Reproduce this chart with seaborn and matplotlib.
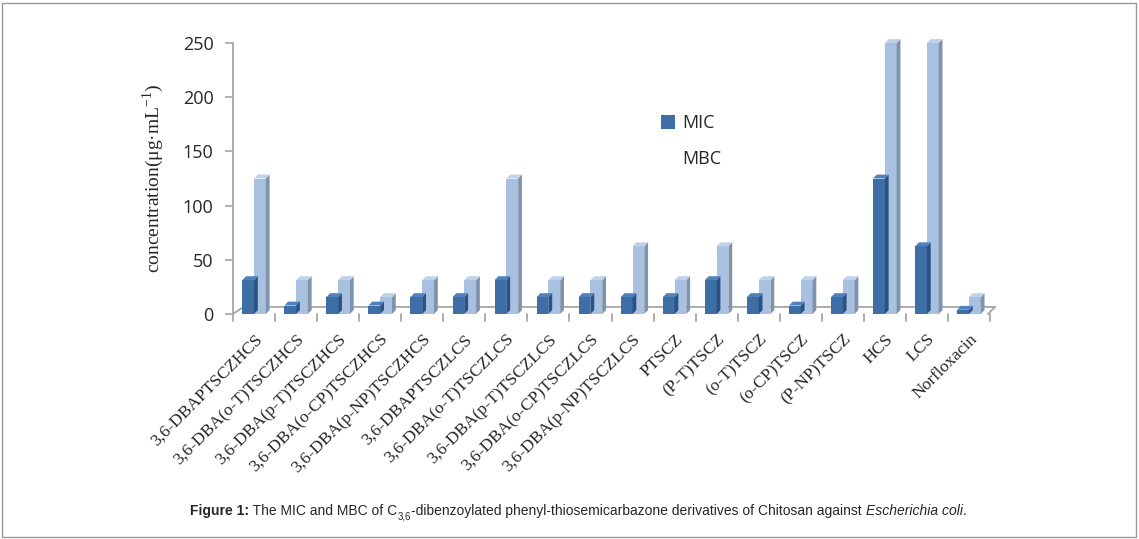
"""MIC / MBC of chitosan derivatives against E. coli, pseudo-3D grouped bars."""

import matplotlib

matplotlib.use("Agg")
import matplotlib.pyplot as plt
import numpy as np
import pandas as pd
import seaborn as sns
from matplotlib.patches import Patch, Polygon, Rectangle

COMPOUNDS = [
    "3,6-DBAPTSCZHCS",
    "3,6-DBA(o-T)TSCZHCS",
    "3,6-DBA(p-T)TSCZHCS",
    "3,6-DBA(o-CP)TSCZHCS",
    "3,6-DBA(p-NP)TSCZHCS",
    "3,6-DBAPTSCZLCS",
    "3,6-DBA(o-T)TSCZLCS",
    "3,6-DBA(p-T)TSCZLCS",
    "3,6-DBA(o-CP)TSCZLCS",
    "3,6-DBA(p-NP)TSCZLCS",
    "PTSCZ",
    "(P-T)TSCZ",
    "(o-T)TSCZ",
    "(o-CP)TSCZ",
    "(P-NP)TSCZ",
    "HCS",
    "LCS",
    "Norfloxacin",
]
MIC = [31.25, 7.8, 15.6, 7.8, 15.6, 15.6, 31.25, 15.6, 15.6, 15.6,
       15.6, 31.25, 15.6, 7.8, 15.6, 125, 62.5, 3.9]
MBC = [125, 31.25, 31.25, 15.6, 31.25, 31.25, 125, 31.25, 31.25, 62.5,
       31.25, 62.5, 31.25, 31.25, 31.25, 250, 250, 15.6]
SERIES = ["MIC", "MBC"]
Y_TICKS = [0, 50, 100, 150, 200, 250]

FRONT = {"MIC": "#3d6ea6", "MBC": "#a9c1e1"}
SIDE = {"MIC": "#2a5282", "MBC": "#7f93ad"}
TOP = {"MIC": "#4f82bd", "MBC": "#c0d2ea"}

df = pd.DataFrame({
    "compound": COMPOUNDS * 2,
    "series": ["MIC"] * len(MIC) + ["MBC"] * len(MBC),
    "value": MIC + MBC,
})

sns.set_style("white")
plt.rcParams["mathtext.fontset"] = "custom"
plt.rcParams["mathtext.rm"] = "Liberation Serif"

fig = plt.figure(figsize=(11.39, 5.39), dpi=100)
ax = fig.add_axes([233 / 1139, 1 - 314 / 539, 757 / 1139, 271 / 539])

sns.barplot(
    data=df, x="compound", y="value", hue="series", hue_order=SERIES,
    palette=[FRONT[s] for s in SERIES], width=0.56, gap=0, ax=ax,
    legend=False, errorbar=None, linewidth=0, saturation=1,
)

# fake 3D depth: side and top faces on every bar
n = len(COMPOUNDS)
dx, dy = 0.09, 3.6
for i, bar in enumerate(list(ax.patches)[: 2 * n]):
    s = SERIES[i // n]
    x, w, h = bar.get_x(), bar.get_width(), bar.get_height()
    bar.set_clip_on(False)
    ax.add_patch(Polygon([(x + w, 0), (x + w + dx, dy), (x + w + dx, h + dy), (x + w, h)],
                         closed=True, facecolor=SIDE[s], edgecolor="none",
                         zorder=bar.get_zorder(), clip_on=False))
    ax.add_patch(Polygon([(x, h), (x + dx, h + dy), (x + w + dx, h + dy), (x + w, h)],
                         closed=True, facecolor=TOP[s], edgecolor="none",
                         zorder=bar.get_zorder(), clip_on=False))

# floor outline
floor_kw = dict(color="#a6a6a6", lw=1.3, clip_on=False, zorder=0.5)
ax.plot([-0.5, -0.25, n - 0.5 + 0.12], [0, 6.5, 6.5], **floor_kw)
ax.plot([n - 0.5 + 0.12, n - 0.5 - 0.05], [6.5, 0], **floor_kw)
for k in range(n + 1):
    ax.plot([k - 0.5, k - 0.5], [0, -6], **floor_kw)

ax.set_ylim(0, 250)
ax.set_xlim(-0.5, n - 0.5)
ax.set_yticks(Y_TICKS)
ax.tick_params(axis="y", which="major", left=True, length=6, width=1.2,
               color="#a6a6a6", pad=8, labelsize=13)
ax.tick_params(axis="x", bottom=False, pad=9)
for lab in ax.get_yticklabels():
    lab.set_fontfamily("Open Sans")
ax.set_xticks(range(n))
ax.set_xticklabels(COMPOUNDS, rotation=45, ha="right", rotation_mode="anchor",
                   fontfamily="Liberation Serif", fontsize=12.5)
sns.despine(ax=ax, top=True, right=True, bottom=True)
ax.spines["left"].set_color("#a6a6a6")
ax.spines["left"].set_linewidth(1.3)
ax.set_xlabel("")
ax.set_ylabel("concentration(μg·mL$^{-1}$)", fontfamily=["Liberation Serif", "DejaVu Serif"],
              fontsize=14, labelpad=12)

handles = [Patch(facecolor=FRONT["MIC"], edgecolor="none"),
           Patch(facecolor="white", edgecolor="none")]
fig.legend(handles, SERIES, loc="upper left", bbox_to_anchor=(645 / 1139, 1 - 98 / 539),
           frameon=False, prop={"family": "Open Sans", "size": 13},
           handlelength=0.75, handleheight=0.75, handletextpad=0.4, labelspacing=1.0)

# caption built from chained text pieces
cap_kw = dict(fontfamily="Liberation Sans", fontsize=10, va="bottom", ha="left",
              annotation_clip=False)
t = ax.annotate("Figure 1:", xy=(190 / 1139, 1 - 518 / 539), xycoords="figure fraction",
                fontweight="bold", **cap_kw)
t = ax.annotate(" The MIC and MBC of C", xy=(1, 0), xycoords=t, **cap_kw)
sub_kw = dict(cap_kw, fontsize=7)
sub = ax.annotate("3,6", xy=(1, 0), xycoords=t, xytext=(0.3, -2.5), textcoords="offset points",
                  **sub_kw)
t = ax.annotate("-dibenzoylated phenyl-thiosemicarbazone derivatives of Chitosan against ",
                xy=(1, 0), xycoords=sub, xytext=(0, 2.5), textcoords="offset points", **cap_kw)
t = ax.annotate("Escherichia coli", xy=(1, 0), xycoords=t, fontstyle="italic", **cap_kw)
ax.annotate(".", xy=(1, 0), xycoords=t, **cap_kw)

fig.add_artist(Rectangle((2 / 1139, 2 / 539), 1134 / 1139, 534 / 539,
                         transform=fig.transFigure, fill=False, edgecolor="#9a9a9a", lw=1))

fig.savefig("out.png", dpi=100)
